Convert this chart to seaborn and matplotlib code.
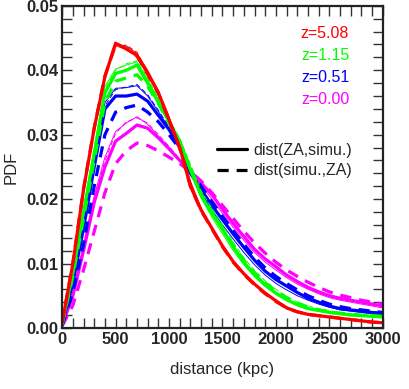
"""
PDF of ZA <-> simulation particle distances at four redshifts.
"""
import matplotlib

matplotlib.use("Agg")

import matplotlib.pyplot as plt
import seaborn as sns
import numpy as np
from matplotlib.ticker import MultipleLocator, FormatStrFormatter
from matplotlib.lines import Line2D

# distance bins (kpc)
distance = np.arange(0, 3001, 100)

# PDF values, in units of 1e-3
red_solid = [0.8, 10.0, 21.5, 31.0, 39.0, 44.2, 43.3, 42.3, 39.5, 36.5, 32.3, 28.0, 22.0, 18.3, 15.5, 12.7,
             10.3, 8.4, 6.8, 5.4, 4.2, 3.1, 2.5, 2.1, 1.9, 1.7, 1.5, 1.3, 1.1, 0.9, 0.8]
red_dashed = [0.8, 10.1, 21.6, 31.1, 39.1, 44.0, 43.4, 42.2, 39.4, 36.4, 32.2, 27.9, 22.0, 18.2, 15.4, 12.6,
              10.2, 8.3, 6.7, 5.3, 4.1, 3.1, 2.5, 2.1, 1.9, 1.7, 1.5, 1.3, 1.1, 0.9, 0.8]
red_thin_solid = [0.8, 10.3, 21.8, 31.2, 39.3, 44.0, 43.8, 42.6, 40.0, 36.9, 32.8, 28.3, 22.8, 18.6, 15.6, 12.8,
                  10.4, 8.5, 6.9, 5.5, 4.3, 3.3, 2.6, 2.2, 1.9, 1.7, 1.5, 1.3, 1.1, 0.95, 0.85]
red_thin_dashed = [0.8, 10.1, 21.6, 31.1, 39.1, 43.7, 43.9, 42.8, 39.8, 36.6, 32.6, 28.1, 22.6, 18.5, 15.6, 12.7,
                   10.3, 8.4, 6.8, 5.4, 4.2, 3.2, 2.6, 2.1, 1.9, 1.7, 1.5, 1.3, 1.1, 0.9, 0.8]

green_solid = [0.7, 8.5, 18.0, 27.0, 36.5, 39.5, 40.0, 40.8, 38.0, 35.0, 32.0, 29.0, 24.5, 20.5, 17.8, 15.3,
               12.6, 10.2, 8.3, 6.7, 5.4, 4.4, 3.6, 3.0, 2.7, 2.4, 2.2, 2.0, 1.9, 1.8, 1.7]
green_dashed = [0.6, 8.0, 17.0, 26.0, 35.0, 38.3, 38.8, 39.3, 37.5, 34.8, 31.8, 28.8, 24.8, 20.8, 18.0, 15.5,
                12.9, 10.5, 8.6, 7.0, 5.7, 4.7, 3.9, 3.2, 2.8, 2.5, 2.3, 2.1, 2.0, 1.9, 1.8]
green_thin_solid = [0.7, 8.8, 18.5, 28.0, 37.5, 40.2, 40.8, 41.3, 38.6, 35.4, 32.2, 29.0, 25.0, 20.2, 17.2, 14.6,
                    12.0, 9.8, 7.9, 6.4, 5.2, 4.2, 3.5, 2.9, 2.6, 2.3, 2.1, 1.9, 1.8, 1.7, 1.6]
green_thin_dashed = [0.6, 8.6, 18.2, 27.5, 37.0, 40.0, 41.0, 41.5, 38.8, 35.6, 32.4, 29.4, 25.4, 21.3, 18.6, 16.0,
                     13.3, 10.9, 8.9, 7.3, 6.0, 4.9, 4.0, 3.4, 3.0, 2.7, 2.4, 2.2, 2.1, 2.0, 1.9]

blue_solid = [0.6, 7.0, 15.5, 25.0, 34.0, 36.0, 36.0, 36.3, 35.2, 33.0, 30.8, 28.0, 24.0, 21.5, 19.0, 16.8,
              14.6, 12.5, 10.5, 8.8, 7.5, 6.5, 5.5, 4.6, 4.0, 3.4, 3.0, 2.8, 2.6, 2.4, 2.3]
blue_dashed = [0.4, 5.5, 13.0, 22.0, 30.0, 33.5, 34.2, 34.6, 33.5, 32.0, 30.0, 27.8, 24.5, 22.0, 19.6, 17.3,
               15.1, 13.0, 11.0, 9.3, 8.0, 6.9, 5.9, 5.0, 4.3, 3.7, 3.3, 3.0, 2.8, 2.6, 2.4]
blue_thin_solid = [0.5, 7.3, 16.0, 26.0, 35.0, 37.2, 37.3, 37.6, 36.0, 33.6, 31.0, 28.0, 24.0, 21.0, 18.3, 16.0,
                   13.8, 11.7, 9.8, 8.2, 6.9, 5.9, 5.0, 4.3, 3.7, 3.2, 2.8, 2.6, 2.4, 2.2, 2.1]
blue_thin_dashed = [0.4, 6.8, 15.2, 25.0, 34.5, 37.0, 37.4, 37.8, 36.2, 33.8, 31.2, 28.2, 24.3, 21.6, 19.2, 16.8,
                    14.6, 12.5, 10.5, 8.8, 7.5, 6.4, 5.4, 4.6, 4.0, 3.5, 3.1, 2.8, 2.6, 2.4, 2.3]

magenta_solid = [0.4, 5.0, 12.0, 19.5, 25.0, 29.0, 30.2, 31.5, 31.0, 29.5, 27.8, 26.0, 24.2, 22.5, 20.7, 18.4,
                 16.2, 14.2, 12.2, 10.7, 9.5, 8.2, 7.2, 6.3, 5.6, 5.0, 4.6, 4.3, 4.0, 3.7, 3.4]
magenta_dashed = [0.3, 3.5, 9.0, 15.0, 21.0, 25.5, 27.5, 28.7, 28.3, 27.5, 26.5, 25.5, 24.3, 22.8, 21.0, 19.0,
                  17.0, 15.0, 13.2, 11.6, 10.2, 9.0, 8.0, 7.1, 6.3, 5.6, 5.1, 4.7, 4.3, 4.0, 3.7]
magenta_thin_solid = [0.4, 5.5, 13.0, 20.5, 26.5, 30.5, 31.8, 32.8, 31.6, 29.8, 28.0, 26.0, 24.4, 22.2, 20.0, 17.8,
                      15.6, 13.6, 11.7, 10.2, 9.0, 7.8, 6.8, 6.0, 5.3, 4.7, 4.3, 4.0, 3.7, 3.4, 3.1]
magenta_thin_dashed = [0.4, 5.2, 12.5, 20.0, 26.0, 30.2, 32.0, 32.6, 31.8, 30.0, 28.2, 26.2, 24.6, 22.6, 20.5, 18.3,
                       16.1, 14.1, 12.2, 10.7, 9.4, 8.2, 7.2, 6.3, 5.6, 5.0, 4.6, 4.2, 3.9, 3.6, 3.3]

redshifts = ["z=5.08", "z=1.15", "z=0.51", "z=0.00"]
colors = ["#ff0000", "#00ff00", "#0000ff", "#ff00ff"]
series = [
    (red_solid, red_dashed, red_thin_solid, red_thin_dashed),
    (green_solid, green_dashed, green_thin_solid, green_thin_dashed),
    (blue_solid, blue_dashed, blue_thin_solid, blue_thin_dashed),
    (magenta_solid, magenta_dashed, magenta_thin_solid, magenta_thin_dashed),
]

sns.set_style("ticks")
plt.rcParams["font.family"] = ["Liberation Sans", "DejaVu Sans"]

fig = plt.figure(figsize=(4.09, 3.89), dpi=100)
ax = fig.add_axes([0.152, 0.157, 0.784, 0.828])

dash = (0, (3.5, 2.5))
thin_dash = (0, (5, 3))
# draw back to front: magenta first so red ends on top
for color, (solid, dashed, thin_s, thin_d) in reversed(list(zip(colors, series))):
    sns.lineplot(x=distance, y=np.array(thin_d) * 1e-3, ax=ax, color=color,
                 linewidth=0.7, linestyle=thin_dash)
    sns.lineplot(x=distance, y=np.array(thin_s) * 1e-3, ax=ax, color=color,
                 linewidth=0.7)
    sns.lineplot(x=distance, y=np.array(dashed) * 1e-3, ax=ax, color=color,
                 linewidth=2.3, linestyle=dash)
    sns.lineplot(x=distance, y=np.array(solid) * 1e-3, ax=ax, color=color,
                 linewidth=2.3)

ax.set_xlim(0, 3000)
ax.set_ylim(0, 0.05)
ax.xaxis.set_major_locator(MultipleLocator(500))
ax.xaxis.set_minor_locator(MultipleLocator(100))
ax.yaxis.set_major_locator(MultipleLocator(0.01))
ax.yaxis.set_minor_locator(MultipleLocator(0.002))
ax.yaxis.set_major_formatter(FormatStrFormatter("%.2f"))
ax.tick_params(which="both", direction="in", top=True, right=True,
               length=7, width=1.0, color="#333333")
ax.tick_params(which="major", labelsize=12, pad=3)
for lbl in ax.get_xticklabels() + ax.get_yticklabels():
    lbl.set_fontweight("bold")
for sp in ax.spines.values():
    sp.set_linewidth(1.6)
    sp.set_color("#222222")

ax.set_xlabel("distance (kpc)", fontsize=12, labelpad=11)
ax.set_ylabel("PDF", fontsize=12, labelpad=5)

# redshift labels, coloured
for i, (lab, c) in enumerate(zip(redshifts, colors)):
    ax.text(0.895, 0.915 - i * 0.069, lab, transform=ax.transAxes, color=c,
            fontsize=11.5, ha="right", va="center")

# line-style key
handles = [Line2D([], [], color="black", linewidth=2.3),
           Line2D([], [], color="black", linewidth=2.3, linestyle=dash)]
ax.legend(handles, ["dist(ZA,simu.)", "dist(simu.,ZA)"], loc="upper right",
          bbox_to_anchor=(0.93, 0.6), frameon=False, fontsize=11.5,
          handlelength=1.9, handletextpad=0.4, labelspacing=0.35, borderpad=0)

fig.savefig("out.png", dpi=100)
